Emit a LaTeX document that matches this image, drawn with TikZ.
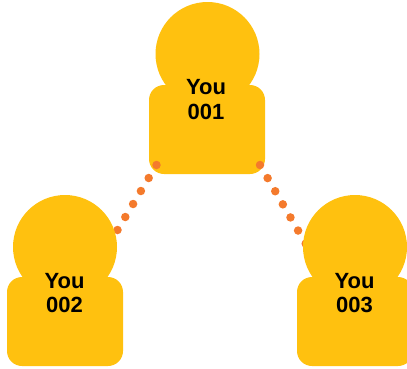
\documentclass[tikz,border=0pt]{standalone}
\usepackage{fontspec}
\setmainfont{Liberation Sans}
\usepackage{xcolor}
\usetikzlibrary{positioning}
\definecolor{youyellow}{HTML}{FFC10F}
\definecolor{linkorange}{HTML}{F47A2C}
\tikzset{>=latex}
\tikzset{
  head/.style={circle, fill=youyellow, minimum size=104pt, inner sep=0pt},
  body/.style={rectangle, rounded corners=15pt, fill=youyellow,
    minimum width=116pt, minimum height=89pt, inner sep=0pt},
  youlabel/.style={font=\fontsize{22}{24.5}\selectfont\bfseries, align=center,
    text=black, inner sep=0pt},
  linkdots/.style={linkorange, line width=8.5pt, line cap=round,
    dash pattern=on 0pt off 15.16pt}
}
\begin{document}
\begin{tikzpicture}[x=1pt,y=-1pt]
          \useasboundingbox (0,0) rectangle (407,368);
          % top person
          \node[head] (head001) at (207.5,54) {};
          \node[body] (body001) at (207,129.5) {};
          \node[youlabel] (label001) at (206,99.5) {You\\001};
          % dotted links, under the two lower persons
          \coordinate (start002) at (156.5,165);
          \coordinate (start003) at (260,165);
          \coordinate (end002) at (117.5,230);
          \coordinate (end003) at (306.5,245);
          \draw[linkdots] (start002) -- (end002);
          \draw[linkdots] (start003) -- (end003);
          % lower left person
          \node[head] (head002) at (65,247) {};
          \node[body] (body002) at (65,321.5) {};
          \node[youlabel] (label002) at (64.5,293) {You\\002};
          % lower right person
          \node[head] (head003) at (355,247) {};
          \node[body] (body003) at (355,321.5) {};
          \node[youlabel] (label003) at (354.5,293) {You\\003};
        \end{tikzpicture}
\end{document}
